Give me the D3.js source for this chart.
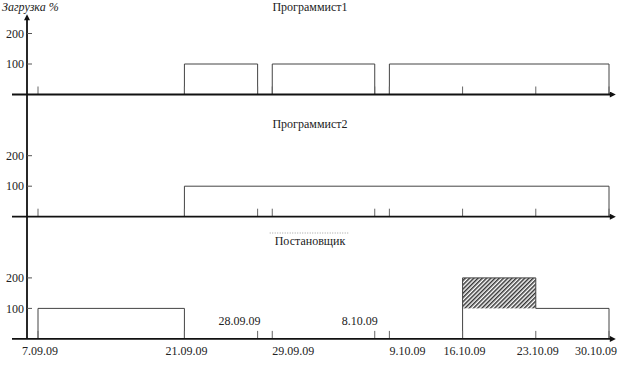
<!DOCTYPE html>
<html>
<head>
<meta charset="utf-8">
<title>Загрузка</title>
<style>
    body { margin: 0; background: #fff; }
</style>
</head>
<body>
<svg id="chart" width="631" height="368"></svg>
<script src="https://cdn.jsdelivr.net/npm/d3@7"></script>
<script>
    // dates marked on the time axis
    var tickDates = ['7.09.09', '21.09.09', '28.09.09', '29.09.09', '8.10.09', '9.10.09', '16.10.09', '23.10.09', '30.10.09'];
    var yTicks = [100, 200];
    var panelNames = ['Программист1', 'Программист2', 'Постановщик'];

    // load of each person, % per period
    var prog1Load = [
        {from: '21.09.09', to: '28.09.09', value: 100},
        {from: '29.09.09', to: '8.10.09', value: 100},
        {from: '9.10.09', to: '30.10.09', value: 100}
    ];
    var prog2Load = [
        {from: '21.09.09', to: '30.10.09', value: 100}
    ];
    var analystLoad = [
        {from: '7.09.09', to: '21.09.09', value: 100},
        {from: '16.10.09', to: '23.10.09', value: 200},
        {from: '23.10.09', to: '30.10.09', value: 100}
    ];
    var panelLoads = [prog1Load, prog2Load, analystLoad];
    var normLoad = 100; // load above this is hatched

    var svg = d3.select('#chart');
    var axisX = 27;
    var firstBase = 94.5, panelStep = 122.2, panelHeight = 61;

    //text with the serif face set inline
    function addText(sel) {
        return sel.append('text')
            .style('font-family', "'Times New Roman', 'Tinos', serif")
            .style('font-size', '12px')
            .style('fill', '#222');
    }

    //x axis counts working days (Mon-Fri) from the first date
    var parse = d3.timeParse('%d.%m.%y');
    var day0 = parse(tickDates[0]);
    function workDay(s) {
        return d3.timeDay.range(day0, parse(s)).filter(d => d.getDay() % 6 !== 0).length;
    }
    var x = d3.scaleLinear()
        .domain([0, workDay(tickDates[tickDates.length - 1])])
        .range([38, 609]);
    var axisEnd = x.range()[1] + 8;

    //arrow head marker
    var defs = svg.append('defs');
    defs.append('marker')
        .attr('id', 'arrow')
        .attr('viewBox', '0 0 10 10')
        .attr('refX', 2).attr('refY', 5)
        .attr('markerUnits', 'userSpaceOnUse')
        .attr('markerWidth', 7).attr('markerHeight', 6)
        .attr('orient', 'auto')
        .append('path')
        .attr('d', 'M0,0L10,5L0,10z')
        .attr('fill', '#111');

    //hatch for overload
    var hatch = defs.append('pattern')
        .attr('id', 'hatch')
        .attr('patternUnits', 'userSpaceOnUse')
        .attr('width', 3).attr('height', 3)
        .attr('patternTransform', 'rotate(45)');
    hatch.append('rect').attr('width', 3).attr('height', 3).attr('fill', '#fff');
    hatch.append('line')
        .attr('x1', 0.75).attr('y1', 0).attr('x2', 0.75).attr('y2', 3)
        .attr('stroke', '#333').attr('stroke-width', 1.5);

    //vertical axis through all panels
    var lastBase = firstBase + panelStep * (panelNames.length - 1);
    svg.append('line')
        .attr('x1', axisX).attr('y1', lastBase)
        .attr('x2', axisX).attr('y2', 19)
        .attr('stroke', '#111').attr('stroke-width', 1.8)
        .attr('marker-end', 'url(#arrow)');

    addText(svg)
        .attr('x', 2).attr('y', 11)
        .style('font-style', 'italic')
        .text('Загрузка %');

    panelNames.forEach(function (name, i) {
        var base = firstBase + panelStep * i;
        var y = d3.scaleLinear().domain([0, 200]).range([base, base - panelHeight]);
        var g = svg.append('g');

        //title
        var title = addText(g)
            .attr('x', 310).attr('y', 11 + i * 117)
            .attr('text-anchor', 'middle')
            .text(name);
        if (i === 2) {
            var bb = title.node().getBBox();
            g.append('line')
                .attr('x1', bb.x - 5).attr('x2', bb.x + bb.width + 3)
                .attr('y1', bb.y - 1).attr('y2', bb.y - 1)
                .attr('stroke', '#888').attr('stroke-width', 0.8)
                .attr('stroke-dasharray', '1,1.5');
        }

        //y ticks
        yTicks.forEach(function (v) {
            g.append('line')
                .attr('x1', axisX).attr('x2', axisX + 5)
                .attr('y1', y(v)).attr('y2', y(v))
                .attr('stroke', '#555');
            addText(g)
                .attr('x', axisX - 3).attr('y', y(v))
                .attr('dy', '0.35em')
                .attr('text-anchor', 'end')
                .text(v);
        });

        //hatched overload
        var segs = panelLoads[i];
        g.selectAll('rect.over')
            .data(segs.filter(s => s.value > normLoad))
            .enter().append('rect')
            .attr('class', 'over')
            .attr('x', s => x(workDay(s.from)))
            .attr('y', s => y(s.value))
            .attr('width', s => x(workDay(s.to)) - x(workDay(s.from)))
            .attr('height', s => y(normLoad) - y(s.value))
            .attr('fill', 'url(#hatch)');

        //step outline, adjoining periods joined
        var groups = [], cur = null;
        segs.forEach(function (s) {
            if (!cur || cur.end !== s.from) {
                cur = {pts: [[s.from, 0]], end: null};
                groups.push(cur);
            }
            cur.pts.push([s.from, s.value], [s.to, s.value]);
            cur.end = s.to;
        });
        groups.forEach(gr => gr.pts.push([gr.end, 0]));

        var line = d3.line()
            .x(d => x(workDay(d[0])))
            .y(d => y(d[1]));
        g.selectAll('path.load')
            .data(groups)
            .enter().append('path')
            .attr('class', 'load')
            .attr('d', gr => line(gr.pts))
            .attr('fill', 'none')
            .attr('stroke', '#444')
            .attr('stroke-width', 1);

        //date ticks on baseline
        g.selectAll('line.tick')
            .data(tickDates)
            .enter().append('line')
            .attr('class', 'tick')
            .attr('x1', d => x(workDay(d))).attr('x2', d => x(workDay(d)))
            .attr('y1', base).attr('y2', base - 8)
            .attr('stroke', '#666');

        //baseline
        g.append('line')
            .attr('x1', 12).attr('x2', axisEnd - 6)
            .attr('y1', base).attr('y2', base)
            .attr('stroke', '#111').attr('stroke-width', 1.8)
            .attr('marker-end', 'url(#arrow)');
    });

    //date labels under the last panel; close pairs split above/below
    var px = tickDates.map(d => x(workDay(d)));
    tickDates.forEach(function (d, k) {
        var nearNext = k < px.length - 1 && px[k + 1] - px[k] < 25;
        var nearPrev = k > 0 && px[k] - px[k - 1] < 25;
        var t = addText(svg).text(d);
        if (nearNext) {
            t.attr('x', px[k] + 3).attr('y', lastBase - 14).attr('text-anchor', 'end');
        } else if (nearPrev) {
            t.attr('x', px[k]).attr('y', lastBase + 16).attr('text-anchor', 'start');
        } else if (k === px.length - 1) {
            t.attr('x', axisEnd).attr('y', lastBase + 16).attr('text-anchor', 'end');
        } else {
            t.attr('x', px[k] + 2).attr('y', lastBase + 16).attr('text-anchor', 'middle');
        }
    });
</script>
</body>
</html>
